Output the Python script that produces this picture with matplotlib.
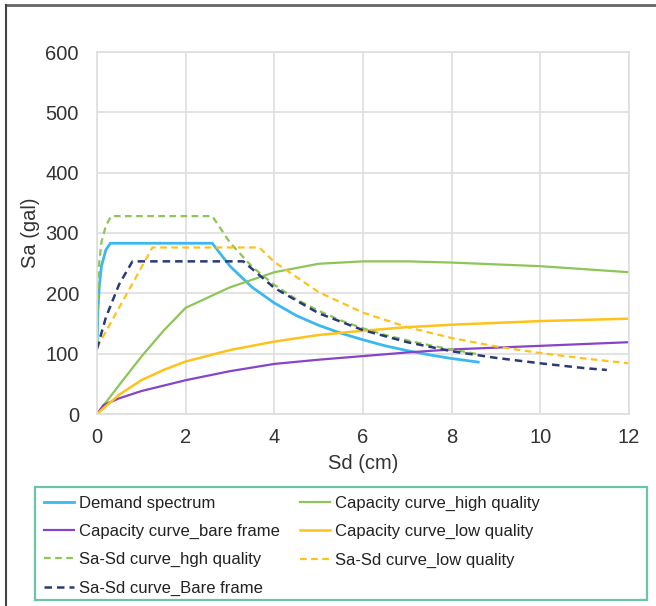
import matplotlib
matplotlib.use("Agg")
import matplotlib.pyplot as plt
from matplotlib.lines import Line2D
from matplotlib.patches import Rectangle

plt.rcParams['font.family'] = ['Liberation Sans', 'DejaVu Sans']

# ---- data ----
demand_sd = [0, 0.02, 0.05, 0.1, 0.2, 0.3, 2.6, 3.0, 3.5, 4.0, 4.5, 5.0, 5.5, 6.0, 6.5, 7.0, 7.5, 8.0, 8.6]
demand_sa = [115, 170, 210, 245, 272, 283, 283, 245, 210, 184, 163, 147, 134, 123, 113, 105, 98, 92, 86]

cap_high_sd = [0, 0.5, 1, 1.5, 2, 3, 4, 5, 6, 7, 8, 9, 10, 11, 12]
cap_high_sa = [0, 48, 95, 138, 176, 210, 235, 249, 253, 253, 251, 248, 245, 240, 235]

cap_bare_sd = [0, 0.15, 0.5, 1, 2, 3, 4, 5, 6, 7, 8, 9, 10, 11, 12]
cap_bare_sa = [0, 15, 26, 38, 56, 71, 83, 90, 96, 102, 107, 110, 113, 116, 119]

cap_low_sd = [0, 0.5, 1, 1.5, 2, 3, 4, 5, 6, 7, 8, 9, 10, 11, 12]
cap_low_sa = [0, 32, 56, 73, 87, 106, 120, 131, 138, 144, 148, 151, 154, 156, 158]

sasd_high_sd = [0, 0.02, 0.05, 0.1, 0.2, 0.32, 2.6, 3.0, 3.5, 4.0, 4.5, 5.0, 5.5, 6.0, 6.5, 7.0, 7.5, 8.0, 8.6]
sasd_high_sa = [115, 200, 250, 285, 312, 328, 328, 284, 244, 214, 190, 171, 155, 142, 131, 122, 114, 107, 99]

sasd_low_sd = [0, 1.25, 3.66, 4.0, 5, 6, 7, 8, 9, 10, 11, 12]
sasd_low_sa = [110, 276, 276, 252, 202, 168, 144, 126, 112, 101, 92, 84]

sasd_bare_sd = [0, 0.2, 0.5, 0.8, 3.3, 4.0, 5, 6, 7, 8, 9, 10, 11, 11.5]
sasd_bare_sa = [108, 160, 215, 253, 253, 209, 167, 139, 119, 104, 93, 84, 76, 73]

labels = ['Demand spectrum', 'Capacity curve_high quality', 'Capacity curve_bare frame',
          'Capacity curve_low quality', 'Sa-Sd curve_hgh quality', 'Sa-Sd curve_low quality',
          'Sa-Sd curve_Bare frame']
xticks = [0, 2, 4, 6, 8, 10, 12]
yticks = [0, 100, 200, 300, 400, 500, 600]

c_blue = '#3bb8ef'
c_green = '#8dc556'
c_purple = '#8645c6'
c_yellow = '#ffc21a'
c_navy = '#2a3a78'

fig = plt.figure(figsize=(6.56, 6.06), dpi=100)
ax = fig.add_axes([97/656, 1 - 414/606, (629 - 97)/656, (414 - 52)/606])

h_dem, = ax.plot(demand_sd, demand_sa, color=c_blue, lw=2.0)
h_ch, = ax.plot(cap_high_sd, cap_high_sa, color=c_green, lw=1.6)
h_cb, = ax.plot(cap_bare_sd, cap_bare_sa, color=c_purple, lw=1.6)
h_cl, = ax.plot(cap_low_sd, cap_low_sa, color=c_yellow, lw=1.8)
h_sh, = ax.plot(sasd_high_sd, sasd_high_sa, color=c_green, lw=1.6, ls=(0, (3, 2)))
h_sl, = ax.plot(sasd_low_sd, sasd_low_sa, color=c_yellow, lw=1.6, ls=(0, (3, 2)))
h_sb, = ax.plot(sasd_bare_sd, sasd_bare_sa, color=c_navy, lw=1.8, ls=(0, (3, 2)))

ax.set_xlim(0, 12)
ax.set_ylim(0, 600)
ax.set_xticks(xticks)
ax.set_yticks(yticks)
ax.tick_params(labelsize=14.5, length=0, colors='#333333')
ax.tick_params(axis='y', pad=13)
ax.tick_params(axis='x', pad=10)
ax.grid(True, color='#dedede', lw=1.2)
ax.set_axisbelow(True)
for s in ax.spines.values():
    s.set_color('#dedede')
    s.set_linewidth(1.2)
ax.set_xlabel('Sd (cm)', fontsize=14.5, color='#333333', labelpad=5)
ax.set_ylabel('Sa (gal)', fontsize=14.5, color='#333333', labelpad=4)

handles = [h_dem, h_cb, h_sh, h_sb, h_ch, h_cl, h_sl]
hl = [labels[0], labels[2], labels[4], labels[6], labels[1], labels[3], labels[5]]
leg = fig.legend(handles, hl, ncol=2, loc='upper left',
                 bbox_to_anchor=(35/656, 1 - 487/606),
                 fontsize=12, frameon=False,
                 handlelength=1.8, handletextpad=0.3, labelspacing=0.78,
                 borderpad=0.55, columnspacing=1.2, borderaxespad=0)
for t in leg.get_texts():
    t.set_color('#222222')

# legend box
fig.add_artist(Rectangle((35/656, 1 - 600/606), (647 - 35)/656, (600 - 487)/606,
                         transform=fig.transFigure, fill=False,
                         edgecolor='#6cc4a6', lw=1.6))

# outer frame lines (top and left)
fig.add_artist(Line2D([6/656, 1], [1 - 5/606, 1 - 5/606], transform=fig.transFigure, color='#666666', lw=2))
fig.add_artist(Line2D([6/656, 6/656], [0, 1 - 5/606], transform=fig.transFigure, color='#444444', lw=1.5))

fig.savefig('out.png', dpi=100)
